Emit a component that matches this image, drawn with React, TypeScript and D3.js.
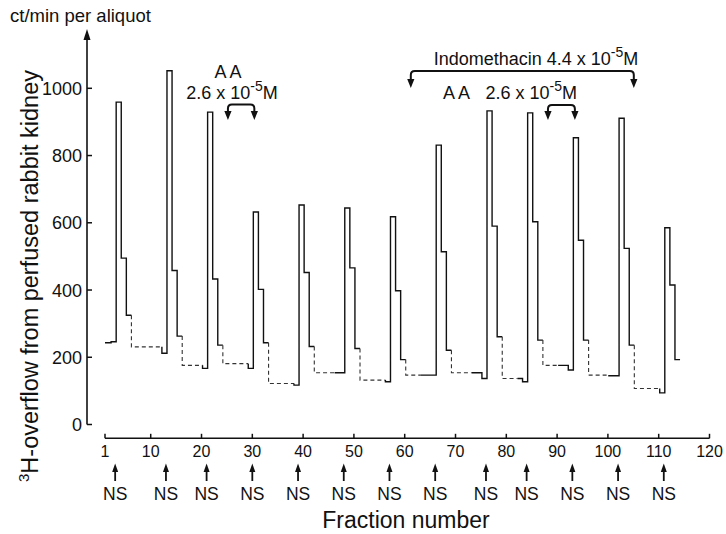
import React from "react";
import * as d3 from "d3";

// ---- data ----
const firstFraction = 1;
const overflow = [
  243, 246, 959, 495, 325, 231, 231, 231, 231, 231, 231, 212,
  1052, 458, 263, 176, 176, 176, 176, 167,
  929, 433, 236, 181, 181, 181, 181, 181, 167,
  632, 402, 243, 122, 122, 122, 122, 122, 117,
  653, 452, 232, 154, 154, 154, 154, 154, 154,
  644, 466, 226, 132, 132, 132, 132, 132, 127,
  618, 398, 193, 147, 147, 147, 147, 147, 147,
  831, 514, 221, 154, 154, 154, 154, 154, 154, 137,
  933, 590, 261, 137, 137, 137, 137, 127,
  927, 603, 251, 176, 176, 176, 176, 176, 162,
  853, 548, 251, 147, 147, 147, 147, 145, 145,
  911, 524, 236, 107, 107, 107, 107, 107, 94,
  585, 415, 193,
];
const dashedRanges: [number, number][] = [
  [6, 11], [16, 19], [24, 28], [33, 37], [42, 45], [51, 55],
  [60, 62], [69, 72], [79, 81], [87, 89], [96, 99], [105, 109],
];
const nsFractions = [3, 13, 21, 30, 39, 48, 57, 66, 76, 84, 93, 102, 111];
const aaRanges: [number, number][] = [[25.2, 30.4], [88.2, 93.5]];
const indomethacinRange: [number, number] = [61.2, 105.1];
const xTicks = [1, 10, 20, 30, 40, 50, 60, 70, 80, 90, 100, 110, 120];
const yTicks = [0, 200, 400, 600, 800, 1000];

// ---- layout ----
const W = 726, H = 534;
const FONT = "'Liberation Sans', Arial, Helvetica, sans-serif";
const STEP_OFFSET = 0.2;

const x = d3.scaleLinear().domain([1, 120]).range([105, 709.5]);
const y = d3.scaleLinear().domain([0, 1000]).range([424.5, 88.3]);

const isDashed = (f: number) => dashedRanges.some(([a, b]) => f >= a && f <= b);

type Run = { dashed: boolean; pts: [number, number][] };
function buildRuns(): Run[] {
  const runs: Run[] = [];
  overflow.forEach((v, k) => {
    const f = firstFraction + k;
    const dashed = isDashed(f);
    const xs = k === 0 ? firstFraction : f + STEP_OFFSET;
    const xe = f + 1 + STEP_OFFSET;
    let run = runs[runs.length - 1];
    if (!run || run.dashed !== dashed) {
      run = { dashed, pts: [] };
      runs.push(run);
      if (k > 0) run.pts.push([x(xs), y(overflow[k - 1])]);
    }
    run.pts.push([x(xs), y(v)]);
    run.pts.push([x(xe), y(v)]);
  });
  return runs;
}

const line = d3.line<[number, number]>().x((d) => d[0]).y((d) => d[1]);

function Bracket({ x1, x2, top, tip }: { x1: number; x2: number; top: number; tip: number }) {
  const r = 4, al = 9, aw = 3.6;
  const d = `M${x1},${tip - al + 1} L${x1},${top + r} Q${x1},${top} ${x1 + r},${top} L${x2 - r},${top} Q${x2},${top} ${x2},${top + r} L${x2},${tip - al + 1}`;
  return (
    <g>
      <path d={d} fill="none" stroke="#111" strokeWidth={2} />
      <path d={`M${x1 - aw},${tip - al} L${x1 + aw},${tip - al} L${x1},${tip} Z`} fill="#111" />
      <path d={`M${x2 - aw},${tip - al} L${x2 + aw},${tip - al} L${x2},${tip} Z`} fill="#111" />
    </g>
  );
}

function Conc({ cx, yb, anchor = "middle" }: { cx: number; yb: number; anchor?: string }) {
  return (
    <text x={cx} y={yb} fontSize={18} textAnchor={anchor as any} fontFamily={FONT} fill="#111">
      2.6 x 10<tspan dy={-8} fontSize={14}>-5</tspan><tspan dy={8}>M</tspan>
    </text>
  );
}

export default function App() {
  const runs = buildRuns();
  const axisY = 438.3;
  const yAxisX = 87;
  return (
    <svg width={W} height={H} style={{ position: "absolute", left: 0, top: 0, background: "#fff" }}
      fontFamily={FONT}>
      <rect width={W} height={H} fill="#fff" />
      {/* y axis */}
      <line x1={yAxisX} x2={yAxisX} y1={y(0)} y2={38} stroke="#111" strokeWidth={1.6} />
      <path d={`M${yAxisX - 3.5},${40} L${yAxisX + 3.5},${40} L${yAxisX},${29} Z`} fill="#111" />
      {yTicks.map((t) => (
        <g key={t}>
          <line x1={yAxisX} x2={yAxisX + 5} y1={y(t)} y2={y(t)} stroke="#111" strokeWidth={1.5} />
          <text x={yAxisX - 5} y={y(t) + 6.5} fontSize={18} textAnchor="end" fill="#111">{t}</text>
        </g>
      ))}
      <text x={10} y={22} fontSize={18.5} fill="#111">ct/min per aliquot</text>
      <text transform={`translate(38,${276}) rotate(-90)`} fontSize={23.5} textAnchor="middle" fill="#111">
        <tspan fontSize={15} dy={-9}>3</tspan><tspan dy={9}>H-overflow from perfused rabbit kidney</tspan>
      </text>

      {/* x axis */}
      <line x1={x(1)} x2={x(120)} y1={axisY} y2={axisY} stroke="#111" strokeWidth={1.6} />
      {xTicks.map((t) => (
        <g key={t}>
          <line x1={x(t)} x2={x(t)} y1={axisY} y2={axisY - 4.5} stroke="#111" strokeWidth={1.5} />
          <text x={x(t)} y={axisY + 18.5} fontSize={16} textAnchor="middle" fill="#111">{t}</text>
        </g>
      ))}
      {nsFractions.map((f) => (
        <g key={f}>
          <line x1={x(f)} x2={x(f)} y1={481} y2={470} stroke="#111" strokeWidth={1.8} />
          <path d={`M${x(f) - 3},${472} L${x(f) + 3},${472} L${x(f)},${463.5} Z`} fill="#111" />
          <text x={x(f)} y={500} fontSize={17.5} textAnchor="middle" fill="#111">NS</text>
        </g>
      ))}
      <text x={406} y={527.5} fontSize={23} textAnchor="middle" fill="#111">Fraction number</text>

      {/* data */}
      {runs.map((r, i) => (
        <path key={i} d={line(r.pts) || ""} fill="none"
          stroke={r.dashed ? "#333" : "#111"}
          strokeWidth={r.dashed ? 1.1 : 1.4}
          strokeDasharray={r.dashed ? "4,3" : undefined} />
      ))}

      {/* annotations */}
      <text x={228} y={78} fontSize={18} textAnchor="middle" fill="#111">A A</text>
      <Conc cx={232} yb={99} />
      <Bracket x1={x(aaRanges[0][0])} x2={x(aaRanges[0][1])} top={104.5} tip={120} />

      <text x={536} y={65} fontSize={18} textAnchor="middle" fill="#111">
        Indomethacin  4.4 x 10<tspan dy={-8} fontSize={14}>-5</tspan><tspan dy={8}>M</tspan>
      </text>
      <Bracket x1={x(indomethacinRange[0])} x2={x(indomethacinRange[1])} top={71} tip={88} />

      <text x={443} y={99} fontSize={18} fill="#111">A A</text>
      <Conc cx={577} yb={99} anchor="end" />
      <Bracket x1={x(aaRanges[1][0])} x2={x(aaRanges[1][1])} top={105} tip={120} />
    </svg>
  );
}
